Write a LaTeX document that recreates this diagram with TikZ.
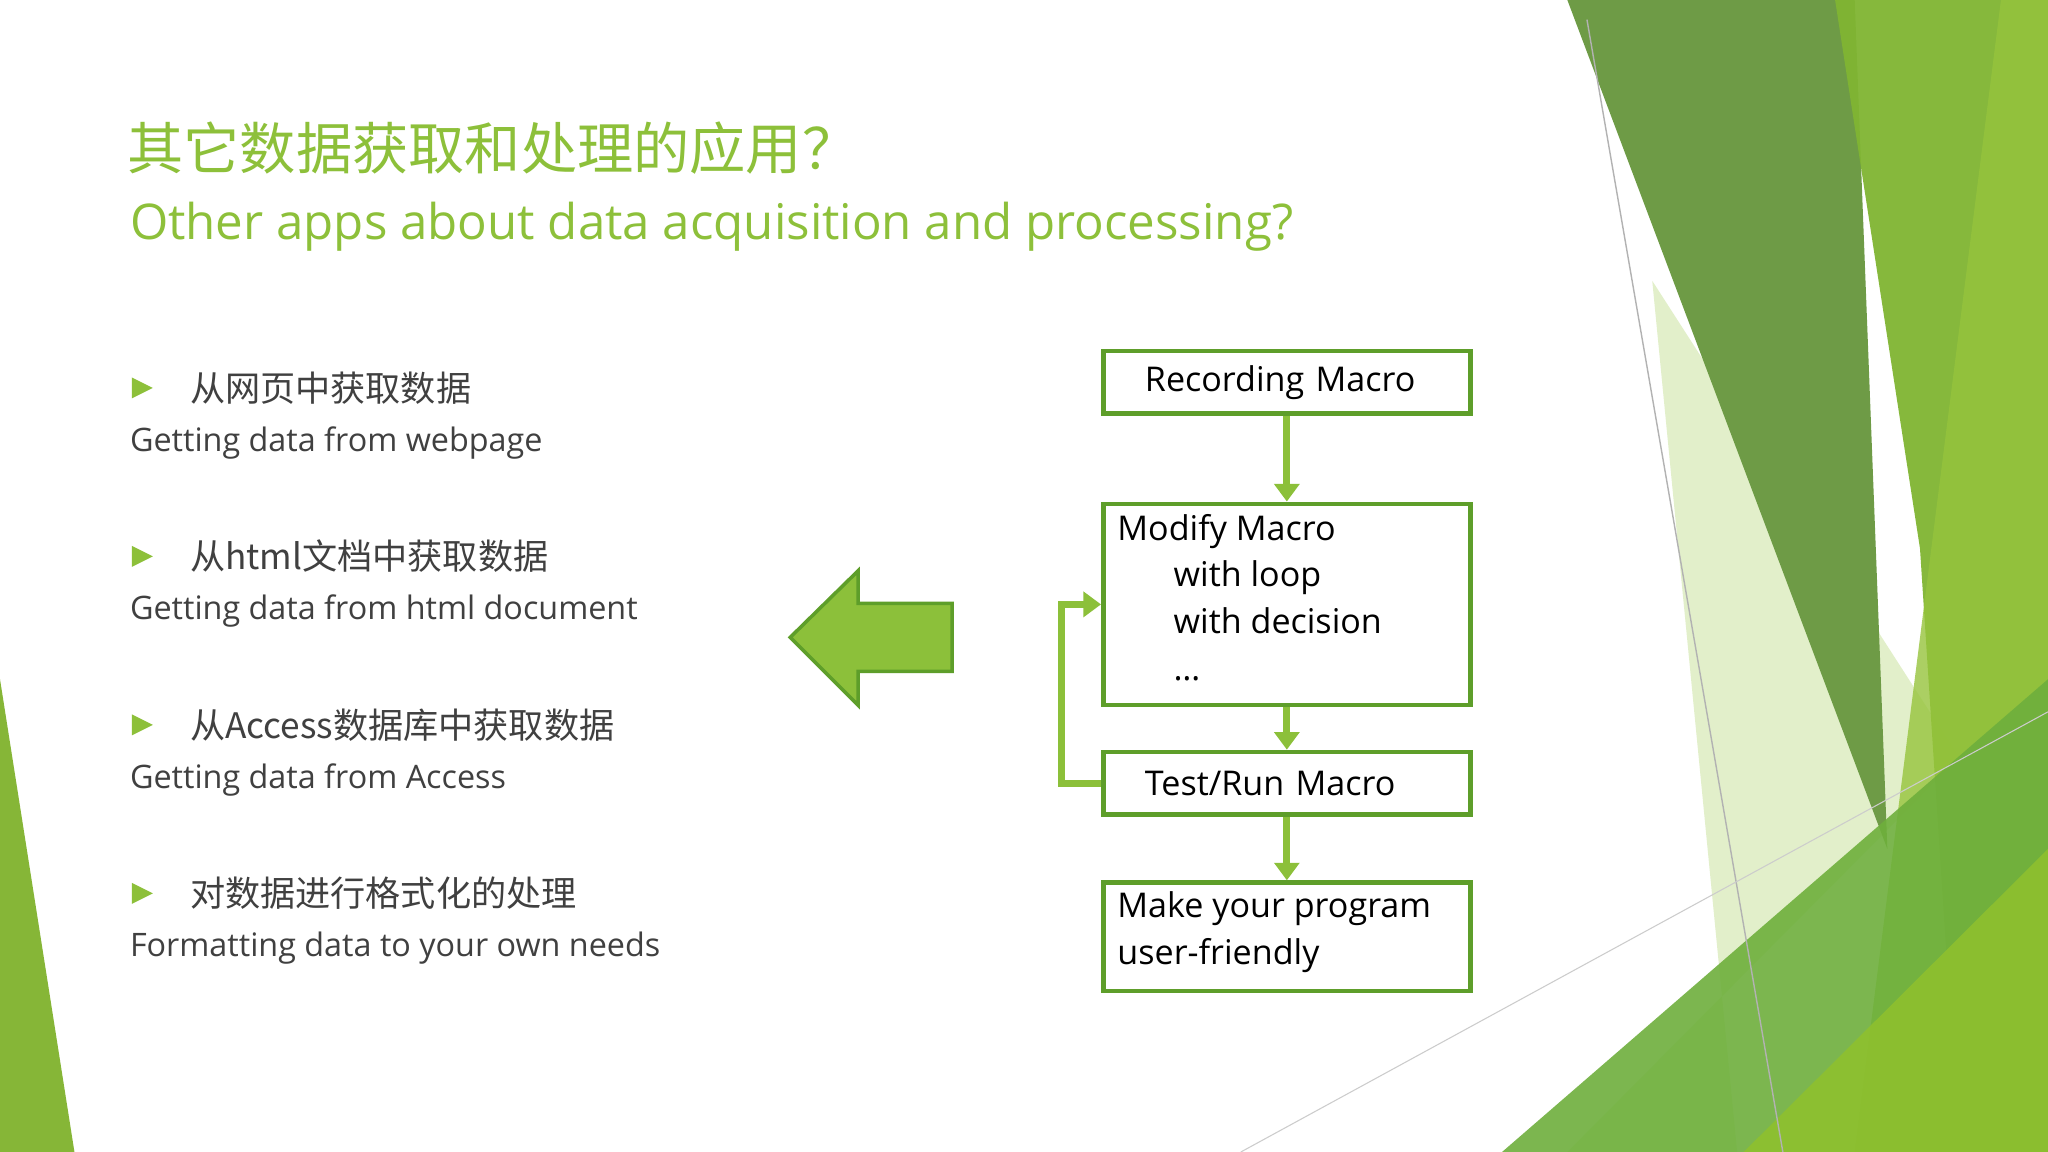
\documentclass[tikz,border=0pt]{standalone}
\usepackage{fontspec}
\usetikzlibrary{arrows.meta}
\setmainfont{Open Sans}
\newfontfamily\cjk{Noto Sans CJK SC}
\definecolor{tgreen}{HTML}{8DC03A}
\definecolor{bgreen}{HTML}{5E9E2A}
\definecolor{agreen}{HTML}{8CC03A}
\definecolor{txt}{HTML}{404040}
\begin{document}
\begin{tikzpicture}[x=0.01306cm,y=-0.01306cm,
  box/.style={draw=bgreen,line width=1.3pt,minimum width=3.67cm,anchor=north west,inner sep=0pt,text width=3.4cm,align=left,font=\fontsize{9.7}{13.5}\selectfont,text=black},
  flow/.style={draw=agreen,line width=2pt,-{Triangle[length=5pt,width=7pt]}},
  bul/.style={fill=tgreen,draw=none},
  zh/.style={anchor=west,font=\cjk\fontsize{10}{12}\selectfont,text=txt,inner sep=0},
  en/.style={anchor=west,font=\fontsize{9.2}{11}\selectfont,text=txt,inner sep=0}]
\useasboundingbox (0,0) rectangle (1568,882);
\fill[white] (0,0) rectangle (1568,882);
% decorations
\fill[tgreen!95!black] (0,520) -- (57,882) -- (0,882) -- cycle;
\fill[fill={rgb,255:red,214;green,233;blue,180},opacity=.7] (1265,215) -- (1500,580) -- (1200,882) -- (1330,882) -- cycle;
\fill[fill={rgb,255:red,110;green,155;blue,70}] (1200,0) -- (1420,0) -- (1445,650) -- cycle;
\fill[fill={rgb,255:red,128;green,181;blue,50},opacity=.95] (1405,0) -- (1568,0) -- (1568,882) -- (1500,882) -- (1470,420) -- cycle;
\fill[fill={rgb,255:red,150;green,196;blue,60},opacity=.8] (1532,0) -- (1568,0) -- (1568,882) -- (1420,882) -- cycle;
\fill[fill={rgb,255:red,110;green,175;blue,60},opacity=.9] (1150,882) -- (1568,520) -- (1568,882) -- cycle;
\fill[fill={rgb,255:red,142;green,192;blue,46},opacity=.9] (1335,882) -- (1568,650) -- (1568,882) -- cycle;
\draw[gray!60,line width=.4pt] (1215,15) -- (1365,882);
\draw[gray!40,line width=.3pt] (950,882) -- (1568,545);
% title
\node[anchor=base west,inner sep=0,text=tgreen,font=\cjk\fontsize{16}{18}\selectfont] (t1) at (97,130) {其它数据获取和处理的应用？};
\node[anchor=base west,inner sep=0,text=tgreen,font=\fontsize{14}{16}\selectfont] (t2) at (99,183) {Other apps about data acquisition and processing?};
% bullets
\foreach \i/\z/\e in {0/从网页中获取数据/Getting data from webpage,
  1/从html文档中获取数据/Getting data from html document,
  2/从Access数据库中获取数据/Getting data from Access,
  3/对数据进行格式化的处理/Formatting data to your own needs}{
  \fill[bul] (101,{289+129*\i}) -- (117,{297+129*\i}) -- (101,{305+129*\i}) -- cycle;
  \node[zh] (z\i) at (145,{297+129*\i}) {\z};
  \node[en] (e\i) at (99,{339+129*\i}) {\e};
}
% big arrow
\filldraw[fill=agreen,draw=bgreen,line width=1pt] (605,488) -- (657,437) -- (657,462) -- (729,462) -- (729,514) -- (657,514) -- (657,540) -- cycle;
% flowchart
\node[box,minimum height=0.627cm] (b1) at (843,267) {\hspace*{8pt}Recording Macro};
\node[box,minimum height=2.011cm] (b2) at (843,384) {};
\node[anchor=north west,inner sep=0,font=\fontsize{9.7}{13.3}\selectfont,align=left] (b2t) at (855,393) {Modify Macro\\\hspace*{16pt}with loop\\\hspace*{16pt}with decision\\\hspace*{16pt}\dots};
\node[box,minimum height=0.627cm] (b3) at (843,574) {\hspace*{8pt}Test/Run Macro};
\node[box,minimum height=1.084cm] (b4) at (843,674) {};
\node[anchor=north west,inner sep=0,font=\fontsize{9.7}{13.3}\selectfont,align=left] (b4t) at (855,682) {Make your program\\user-friendly};
\draw[flow] (b1.south) -- (b2.north);
\draw[flow] (b2.south) -- (b3.north);
\draw[flow] (b3.south) -- (b4.north);
\coordinate (lp) at (813,0);
\draw[flow] (b3.west) -- (b3.west -| lp) -- (b2.west -| lp) -- (b2.west);
\end{tikzpicture}
\end{document}
